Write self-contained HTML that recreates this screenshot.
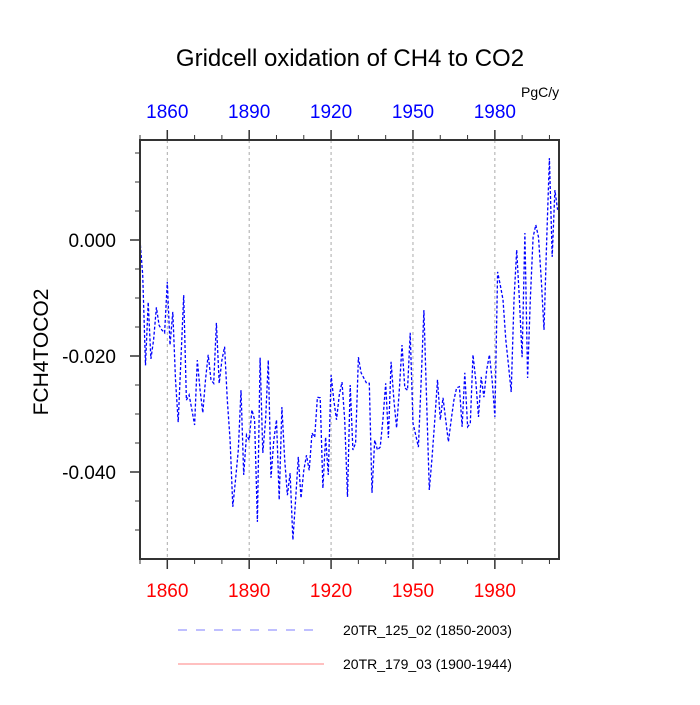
<!DOCTYPE html>
<html><head><meta charset="utf-8"><style>
body{margin:0;background:#fff}
svg text{font-family:"Liberation Sans",sans-serif}
</style></head><body>
<svg id="chart" width="700" height="700" viewBox="0 0 700 700" xmlns="http://www.w3.org/2000/svg">
<text x="350" y="66" font-size="24" text-anchor="middle">Gridcell oxidation of CH4 to CO2</text>
<text x="521" y="97" font-size="14">PgC/y</text>
<text transform="translate(48,352) rotate(-90)" font-size="21" text-anchor="middle">FCH4TOCO2</text>
<g id="grid"></g>
<g id="axes"></g>
<g id="series"></g>
<rect x="140" y="140" width="419" height="419" fill="none" stroke="#333" stroke-width="2"/>
<line x1="178" y1="630" x2="316" y2="630" stroke="#7f7fff" stroke-width="1" stroke-dasharray="9,9"/>
<text x="343" y="635" font-size="14">20TR_125_02 (1850-2003)</text>
<line x1="178" y1="664" x2="324" y2="664" stroke="#ff8080" stroke-width="1"/>
<text x="343" y="669" font-size="14">20TR_179_03 (1900-1944)</text>
</svg>
<script>
const startYear = 1850;
const values = [
0.0,-6.0,-21.6,-10.7,-20.5,-17.2,-11.6,-14.7,-15.5,-16.0,
-7.2,-18.1,-12.4,-24.1,-31.4,-20.7,-9.5,-27.6,-26.7,-29.3,
-31.9,-20.7,-25.9,-29.8,-24.1,-19.8,-24.1,-24.7,-14.3,-24.7,
-20.7,-18.4,-27.6,-34.5,-46.0,-41.4,-36.2,-25.9,-40.5,-33.6,
-34.5,-29.3,-31.0,-48.6,-20.3,-36.7,-31.0,-20.7,-41.0,-34.5,
-31.0,-44.8,-28.8,-37.9,-44.0,-40.2,-51.7,-44.8,-37.4,-44.5,
-39.7,-37.1,-39.7,-33.3,-34.0,-27.1,-27.2,-42.8,-34.0,-40.5,
-23.3,-27.6,-31.0,-26.7,-24.5,-31.0,-44.3,-25.0,-36.2,-35.0,
-20.2,-22.9,-23.8,-24.7,-24.7,-43.6,-34.5,-36.2,-35.7,-31.0,
-24.7,-34.1,-21.0,-27.6,-32.4,-25.9,-18.1,-25.5,-25.9,-16.0,
-31.6,-33.6,-35.7,-24.1,-12.1,-27.6,-43.1,-37.4,-31.0,-24.1,
-31.0,-27.2,-31.0,-34.8,-31.0,-27.6,-25.5,-25.3,-32.2,-22.9,
-32.2,-31.6,-19.8,-24.1,-30.5,-23.6,-27.1,-22.4,-19.8,-24.1,
-30.5,-5.5,-7.8,-10.3,-17.2,-21.6,-26.2,-10.3,-1.7,-10.3,
-20.2,1.2,-23.8,-10.3,0.5,2.6,0.5,-6.9,-15.5,0.0,
14.1,-2.9,8.6,5.2
].map(v => v / 1000);
const xTickYears = [1860, 1890, 1920, 1950, 1980];
const yTickValues = [0.0, -0.02, -0.04];
const yTickLabels = ["0.000", "-0.020", "-0.040"];

const X0 = 140, X1 = 559, Y0 = 140, Y1 = 559;
const xMin = 1850, xMax = 2003.5;
const yZero = 240, yPer = 5800;
const xs = yr => X0 + (yr - xMin) / (xMax - xMin) * (X1 - X0);
const ys = v => yZero - v * yPer;
const NS = "http://www.w3.org/2000/svg";
function mk(tag, attrs, parent) {
  const e = document.createElementNS(NS, tag);
  for (const k in attrs) e.setAttribute(k, attrs[k]);
  parent.appendChild(e); return e;
}
const grid = document.getElementById('grid');
const axes = document.getElementById('axes');
const series = document.getElementById('series');

for (let yr = 1850; yr <= 2000; yr += 10) {
  const x = xs(yr);
  const major = xTickYears.includes(yr);
  const len = major ? 10 : 5;
  const t1 = mk('line', {x1: x, y1: Y0, x2: x, y2: Y0 - len, stroke: '#333', 'stroke-width': major ? 1.5 : 1}, axes);
  
  
  const t2 = mk('line', {x1: x, y1: Y1, x2: x, y2: Y1 + len, stroke: '#333', 'stroke-width': major ? 1.5 : 1}, axes);
  
  
}
xTickYears.forEach(yr => {
  const x = xs(yr);
  const g = mk('line', {x1: x, y1: Y0, x2: x, y2: Y1, stroke: '#aaa', 'stroke-width': 1, 'stroke-dasharray': '3,3'}, grid);
  
  
  const tt = mk('text', {x: x, y: 118, 'font-size': 19, fill: '#0000ff', 'text-anchor': 'middle'}, axes);
  tt.textContent = yr;
  
  
  const bt = mk('text', {x: x, y: 597, 'font-size': 19, fill: '#ff0000', 'text-anchor': 'middle'}, axes);
  bt.textContent = yr;
  
  
});
for (let i = -11; i <= 3; i++) {
  const v = i * 0.005;
  const y = ys(v);
  if (y < Y0 + 1 || y > Y1 - 1) continue;
  const major = (i % 4 === 0);
  const t = mk('line', {x1: X0, y1: y, x2: X0 - (major ? 10 : 5), y2: y, stroke: '#333', 'stroke-width': major ? 1.5 : 1}, axes);
  
  
}
yTickValues.forEach((v, i) => {
  const t = mk('text', {x: 116, y: ys(v) + 7, 'font-size': 19, 'text-anchor': 'end'}, axes);
  t.textContent = yTickLabels[i];
  
  
});
const pts = values.map((v, i) => xs(startYear + i).toFixed(1) + ',' + ys(v).toFixed(1)).join(' ');
const line = mk('polyline', {points: pts, fill: 'none', stroke: '#0000ff', 'stroke-width': 1.3, 'stroke-dasharray': '3,2'}, series);


</script>
</body></html>
